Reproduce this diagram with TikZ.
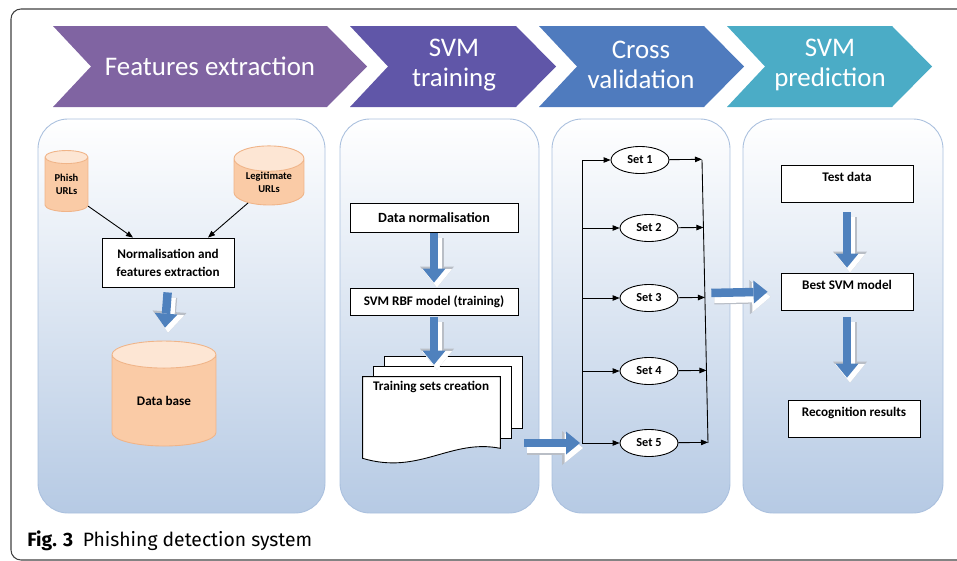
\documentclass[tikz,border=0pt]{standalone}
\usepackage{fontspec}
\setmainfont{Carlito}
\newfontfamily\capfont{Fira Sans}
\usetikzlibrary{positioning,arrows.meta,shapes.geometric,calc}

\definecolor{chevA}{RGB}{128,100,162}
\definecolor{chevB}{RGB}{96,86,168}
\definecolor{chevC}{RGB}{79,123,190}
\definecolor{chevD}{RGB}{75,172,198}
\definecolor{paneledge}{RGB}{170,192,222}
\definecolor{panelbot}{RGB}{182,202,228}
\definecolor{blkblue}{RGB}{79,129,189}
\definecolor{blkedge}{RGB}{185,190,198}
\definecolor{cylbody}{RGB}{250,203,166}
\definecolor{cylend}{RGB}{253,230,212}
\definecolor{cyledge}{RGB}{240,180,136}

\begin{document}
\begin{tikzpicture}[x=0.02cm, y=-0.02cm,
  frame/.style={draw=black!75, line width=0.6pt, rounded corners=0.2cm},
  head/.style={text=white, align=center, font=\fontsize{15.3}{17}\selectfont},
  panel/.style={draw=paneledge, line width=0.5pt, rounded corners=0.6cm,
                top color=white, middle color=panelbot!40, bottom color=panelbot},
  box/.style={draw, fill=white, line width=0.5pt, align=center, inner sep=1pt,
              font=\bfseries\fontsize{7.5}{9}\selectfont},
  tbox/.style={box, minimum width=2.64cm, text height=7.2pt, text depth=9.8pt,
               inner ysep=2pt},
  can/.style={cylinder, shape border rotate=90, draw=cyledge, line width=0.5pt,
              cylinder uses custom fill, cylinder body fill=cylbody,
              cylinder end fill=cylend, inner sep=0pt, align=center,
              font=\bfseries\fontsize{6}{7.5}\selectfont},
  setnode/.style={ellipse, draw, fill=white, line width=0.5pt, inner sep=0pt,
                  minimum width=1.16cm, minimum height=0.54cm,
                  font=\bfseries\fontsize{7}{8.5}\selectfont},
  sheet/.style={draw, fill=white, line width=0.5pt},
  arr/.style={-{Triangle[length=1.4mm,width=1.1mm]}, line width=0.5pt},
  blk/.style={draw=blkblue, line width=1.7mm,
              -{Triangle[length=2.8mm,width=4.6mm,line width=0pt]},
              preaction={draw=blkedge, line width=2.6mm,
                         -{Triangle[length=4.2mm,width=6.8mm,line width=0pt]},
                         transform canvas={shift={(0.06cm,-0.1cm)}}},
              preaction={draw=white, line width=2.1mm,
                         -{Triangle[length=3.7mm,width=6.0mm,line width=0pt]},
                         transform canvas={shift={(0.06cm,-0.1cm)}}}}
]
\useasboundingbox (0,0) rectangle (957,561);
\draw[frame] (11,9) rectangle (990,560);

%% ── header chevrons ─────────────────────────────────────────────────────
\foreach \a/\b/\c in {53/327/chevA, 350/516/chevB, 539/704/chevC, 727/892/chevD}
  \fill[\c] (\a,26) -- (\b,26) -- (\b+40,66.5) -- (\b,107) -- (\a,107)
            -- (\a+38,66.5) -- cycle;
\node[head] (hfe)  at (210,66) {Features extraction};
\node[head] (hsvm) at (454,65) {SVM\\training};
\node[head] (hcv)  at (641,65) {Cross\\validation};
\node[head] (hpr)  at (830,65) {SVM\\prediction};

%% ── panels ──────────────────────────────────────────────────────────────
\path[panel] (38,119)  rectangle (325,513);
\path[panel] (340,119) rectangle (539,513);
\path[panel] (552,119) rectangle (730,513);
\path[panel] (743,119) rectangle (943,513);

%% ── nodes ───────────────────────────────────────────────────────────────
% Features extraction
\node[can, minimum width=0.86cm, minimum height=1.22cm, aspect=0.55]
  (phish) at (66.5,184.5) {Phish\\URLs};
\node[can, minimum width=1.4cm, minimum height=1.12cm, aspect=0.55]
  (legit) at (269,182) {Legitimate\\URLs};
\node[box, minimum width=2.64cm, minimum height=0.98cm, font=\bfseries\fontsize{7.5}{10.2}\selectfont]
  (nfe) at (168,262.5) {Normalisation and\\features extraction};
\node[can, minimum width=2.08cm, minimum height=2.1cm, aspect=0.5,
      font=\bfseries\fontsize{7.5}{9}\selectfont]
  (db) at (164,400.5) {Data base};

% SVM training
\node[box, minimum width=3.36cm, minimum height=0.58cm, font=\bfseries\fontsize{8}{9.5}\selectfont]
  (dn)  at (434,217.5) {Data normalisation};
\node[box, minimum width=3.36cm, minimum height=0.54cm] (rbf) at (434,301.5) {SVM RBF model (training)};
\node[minimum width=2.74cm, minimum height=1.7cm, inner sep=0pt] (tsc) at (431.5,419.5) {};
\draw[sheet] ([shift={(22,-20)}]tsc.north west) rectangle ([shift={(22,-34)}]tsc.south east);
\draw[sheet] ([shift={(11,-10)}]tsc.north west) rectangle ([shift={(11,-24)}]tsc.south east);
\draw[sheet] (tsc.north west) -- (tsc.north east) -- ([shift={(0,-14)}]tsc.south east)
  .. controls ([shift={(-50,-24)}]tsc.south east) and ([shift={(57,13)}]tsc.south west)
  .. ([shift={(0,-4)}]tsc.south west) -- cycle;
\node[anchor=north west, inner sep=0pt, font=\bfseries\fontsize{7.5}{9}\selectfont]
  (tsctxt) at ([shift={(10,4)}]tsc.north west) {Training sets creation};

% Cross validation
\coordinate (lbusT) at (582,160);
\coordinate (lbusB) at (582,443);
\coordinate (rbusT) at (702,160);
\coordinate (rbusB) at (708,443);
\node[setnode] (s1) at (640,160) {Set 1};
\node[setnode] (s2) at (649,228) {Set 2};
\node[setnode] (s3) at (649,298) {Set 3};
\node[setnode] (s4) at (649,371) {Set 4};
\node[setnode] (s5) at (649,443) {Set 5};

% SVM prediction
\node[tbox] (td)  at (847,183.5) {Test data};
\node[tbox] (bsm) at (847,291.5) {Best SVM model};
\node[tbox] (rr)  at (854,418.5) {Recognition results};

%% ── edges ───────────────────────────────────────────────────────────────
\draw[arr] (phish.-45) -- ($(nfe.north)+(-35,0)$);
\draw[arr] (legit.-135) -- ($(nfe.north)+(40,0)$);
\draw[blk, shorten <=1mm, shorten >=2.6mm] (nfe.south) -- (db.north);

\draw[blk, shorten <=0.2mm, shorten >=1mm] (dn.south) -- (rbf.north);
\draw[blk, shorten <=0.4mm, shorten >=2.4mm] (rbf.south) -- (rbf.south |- tsc.north);
\draw[blk, shorten <=4.8mm, shorten >=0.4mm] (tsc.east |- lbusB) -- (lbusB);

% buses
\draw[line width=0.5pt] (lbusT) -- (lbusB);
\draw[line width=0.5pt] (rbusT) -- (rbusB);
\foreach \s in {s1,s2,s3,s4,s5}{
  \draw[arr] (lbusT |- \s) -- (\s);
  \draw[arr] (\s) -- ($(rbusT)!(\s.east)!(rbusB)$);
}
\draw[blk, shorten <=1.3mm, shorten >=2.6mm] ($(rbusT)!(bsm.west)!(rbusB)$) -- (bsm.west);

\draw[blk, shorten <=2mm, shorten >=1mm] (td.south) -- (bsm.north);
\draw[blk, shorten <=1.4mm, shorten >=4.4mm] (bsm.south) -- (bsm.south |- rr.north);

%% ── caption ─────────────────────────────────────────────────────────────
\node[anchor=base west, inner sep=0pt, font=\capfont\fontsize{11}{13}\selectfont]
  (cap) at (27,546) {\textbf{Fig. 3}\enspace Phishing detection system};
\end{tikzpicture}
\end{document}
